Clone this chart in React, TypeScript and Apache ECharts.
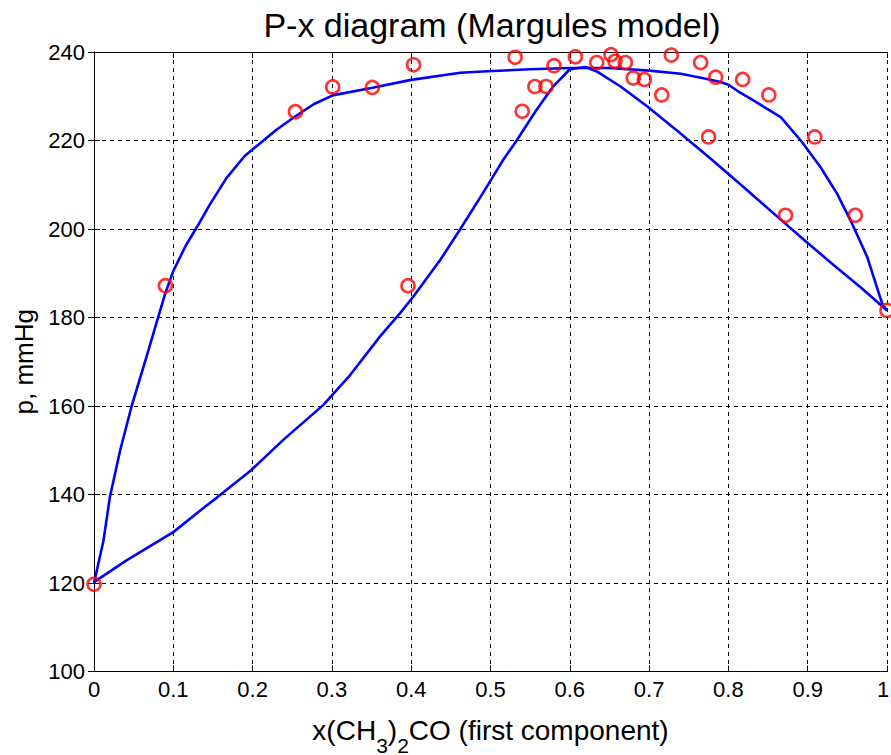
import React, { useEffect, useRef } from "react";
import * as echarts from "echarts";

// Experimental data (red circles)
const expX = [0, 0.09, 0.254, 0.301, 0.351, 0.403, 0.396, 0.531, 0.54, 0.556, 0.57, 0.58, 0.607, 0.634, 0.652, 0.657, 0.67, 0.68, 0.694, 0.716, 0.728, 0.765, 0.775, 0.784, 0.818, 0.851, 0.872, 0.909, 0.96, 1.0];
const expY = [119.7, 187.2, 226.5, 232.1, 232.0, 237.1, 187.2, 238.8, 226.6, 232.2, 232.2, 236.9, 238.9, 237.6, 239.4, 237.9, 237.6, 234.1, 233.8, 230.3, 239.3, 237.6, 220.8, 234.3, 233.8, 230.3, 203.1, 220.8, 203.1, 181.6];

// Model curve: P vs liquid composition (upper curve)
const bubbleX = [0, 0.012, 0.02, 0.033, 0.0475, 0.066, 0.08, 0.09, 0.1, 0.115, 0.13, 0.146, 0.167, 0.19, 0.2137, 0.2305, 0.255, 0.277, 0.301, 0.351, 0.4, 0.462, 0.49, 0.55, 0.6, 0.65, 0.7, 0.74, 0.77, 0.79, 0.8, 0.815, 0.832, 0.866, 0.893, 0.916, 0.937, 0.956, 0.975, 0.994, 1.0];
const bubbleY = [120, 129.6, 139.4, 150, 160, 171, 179.5, 185.5, 190.5, 196, 200.5, 205.5, 211.5, 216.5, 220, 222.5, 225.6, 228.2, 230.2, 231.9, 233.7, 235.3, 235.6, 236.1, 236.4, 236.4, 235.8, 235.1, 234, 233.2, 232.6, 230.8, 229, 225.3, 219.6, 214, 208, 201.2, 193.7, 183.1, 181.6];

// Model curve: P vs vapour composition (lower curve)
const dewX = [0, 0.041, 0.1, 0.134, 0.155, 0.197, 0.239, 0.289, 0.323, 0.361, 0.386, 0.403, 0.437, 0.462, 0.49, 0.517, 0.533, 0.556, 0.578, 0.6, 0.62, 0.634, 0.664, 0.697, 0.737, 0.777, 0.819, 0.87, 0.897, 0.933, 0.967, 1.0];
const dewY = [120.2, 125.1, 131.5, 136.4, 139.3, 145.3, 152.4, 160.2, 167, 175.8, 181, 184.8, 193.1, 200, 208, 215.9, 220, 226.4, 232, 236.1, 236.6, 235.6, 232.2, 227.8, 222, 216, 209.5, 201.5, 197.3, 191.8, 186.8, 181.6];

const FONT = "Liberation Sans, Arial, sans-serif";

export default function App() {
  const ref = useRef<HTMLDivElement>(null);

  useEffect(() => {
    if (!ref.current) return;
    const chart = echarts.init(ref.current, undefined, { renderer: "svg" });
    const zip = (xs: number[], ys: number[]) => xs.map((x, i) => [x, ys[i]]);
    const split = { show: true, lineStyle: { color: "#000", type: [4, 4] as any, width: 1 } };
    const axLine = { show: true, lineStyle: { color: "#000", width: 1 } };
    const tick = { show: true, inside: true, length: 6, lineStyle: { color: "#000" } };
    chart.setOption({
      animation: false,
      backgroundColor: "#fff",
      textStyle: { fontFamily: FONT },
      title: {
        text: "P-x diagram (Margules model)",
        left: 487,
        top: 3,
        textAlign: "center",
        textStyle: { fontSize: 34, fontWeight: "normal", color: "#000", fontFamily: FONT },
      },
      grid: { left: 94, right: 4, top: 52, bottom: 83.5, containLabel: false, outerBoundsMode: "none" },
      xAxis: [
        {
          type: "value",
          min: 0,
          max: 1,
          interval: 0.1,
          axisLine: axLine,
          axisTick: tick,
          splitLine: split,
          axisLabel: {
            color: "#000",
            fontSize: 22,
            margin: 7,
            fontFamily: FONT,
            formatter: (v: number) => (v >= 0.999 ? "{r|1}" : String(Number(v.toFixed(1)))),
            rich: { r: { fontSize: 22, color: "#000", fontFamily: FONT, padding: [0, 8, 0, 0] } },
          },
          name: "{a|x(CH}{b|3}{a|)}{b|2}{a|CO (first component)}",
          nameLocation: "middle",
          nameGap: 33,
          nameTextStyle: {
            rich: {
              a: { fontSize: 28, color: "#000", fontFamily: FONT },
              b: { fontSize: 21, color: "#000", fontFamily: FONT, padding: [30, 0, 0, 0] },
            },
          },
        },
        {
          type: "value",
          position: "top",
          min: 0,
          max: 1,
          interval: 0.1,
          axisLine: axLine,
          axisTick: tick,
          splitLine: { show: false },
          axisLabel: { show: false },
        },
      ],
      yAxis: [
        {
          type: "value",
          min: 100,
          max: 240,
          interval: 20,
          axisLine: axLine,
          axisTick: tick,
          splitLine: split,
          axisLabel: { color: "#000", fontSize: 22, margin: 9, fontFamily: FONT },
          name: "p, mmHg",
          nameLocation: "middle",
          nameGap: 57,
          nameTextStyle: { fontSize: 26, color: "#000", fontFamily: FONT },
        },
        {
          type: "value",
          position: "right",
          min: 100,
          max: 240,
          interval: 20,
          axisLine: axLine,
          axisTick: tick,
          splitLine: { show: false },
          axisLabel: { show: false },
        },
      ],
      series: [
        {
          type: "line",
          data: zip(bubbleX, bubbleY),
          showSymbol: false,
          lineStyle: { color: "#0000ff", width: 2.6 },
          clip: false,
          z: 2,
        },
        {
          type: "line",
          data: zip(dewX, dewY),
          showSymbol: false,
          lineStyle: { color: "#0000ff", width: 2.6 },
          clip: false,
          z: 2,
        },
        {
          type: "scatter",
          data: zip(expX, expY),
          symbol: "circle",
          symbolSize: 13,
          itemStyle: { color: "rgba(0,0,0,0)", borderColor: "#ff0000", borderWidth: 2.6 },
          clip: false,
          z: 3,
        },
      ],
    });
    return () => chart.dispose();
  }, []);

  return (
    <div
      ref={ref}
      style={{ position: "fixed", left: 0, top: 0, width: 891, height: 755 }}
    />
  );
}
